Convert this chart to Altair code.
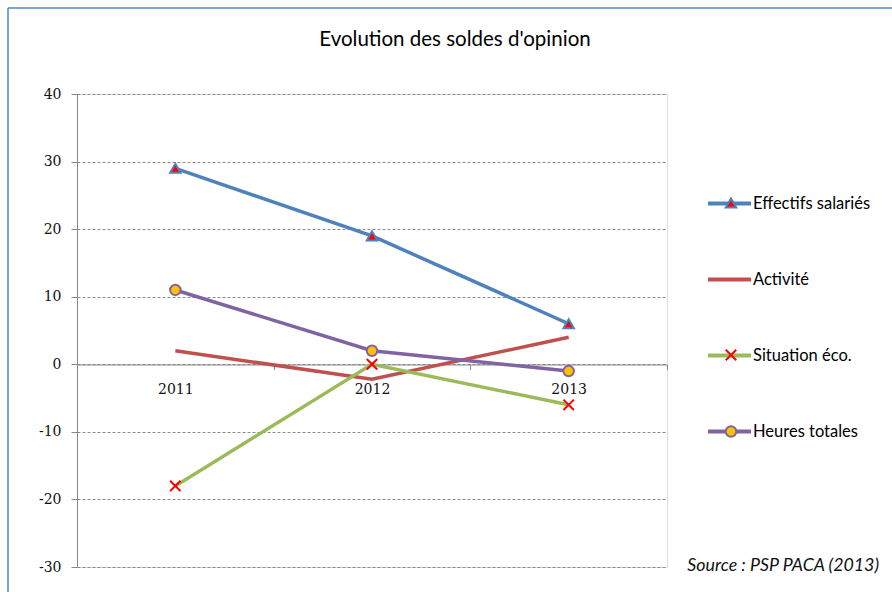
import altair as alt
import pandas as pd

years = ["2011", "2012", "2013"]
series = ["Effectifs salariés", "Activité", "Situation éco.", "Heures totales"]
effectifs = [29, 19, 6]
activite = [2, -2.2, 4]
situation = [-18, 0, -6]
heures = [11, 2, -1]

line_colors = ["#4F81BD", "#C0504D", "#9BBB59", "#8064A2"]
marker_fill = ["#FF0000", "transparent", "transparent", "#FFC000"]
marker_stroke = ["#4F81BD", "transparent", "#FF0000", "#8064A2"]
marker_shapes = ["triangle-up", "circle", "M-1,-1L1,1M-1,1L1,-1", "circle"]
y_ticks = [-30, -20, -10, 0, 10, 20, 30, 40]

title_text = "Evolution des soldes d'opinion"
source_text = "Source : PSP PACA (2013)"

rows = []
for name, vals in zip(series, [effectifs, activite, situation, heures]):
    for yr, v in zip(years, vals):
        rows.append({"serie": name, "serie_m": name, "annee": yr, "valeur": v})
df = pd.DataFrame(rows)

W, H = 590, 473

x_enc = alt.X("annee:N", sort=years,
              scale=alt.Scale(type="band", paddingInner=0, paddingOuter=0),
              axis=alt.Axis(title=None, labelAngle=0, tickBand="extent", tickSize=5,
                            tickColor="#888888", domainColor="#888888",
                            labelFont="DejaVu Serif", labelFontSize=14, labelColor="#111111",
                            labelPadding=13, offset=-202.5, grid=False))
y_enc = alt.Y("valeur:Q",
              scale=alt.Scale(domain=[-30, 40], nice=False, zero=False),
              axis=alt.Axis(title=None, values=y_ticks, tickSize=6, tickColor="#888888",
                            domainColor="#888888", grid=True, gridColor="#8a8a8a",
                            gridDash=[3, 2], gridWidth=1, labelExpr="datum.value + ''",
                            labelFont="DejaVu Serif", labelFontSize=14, labelColor="#111111",
                            labelPadding=10))

base = alt.Chart(df)

lines = base.mark_line(strokeWidth=3.5).encode(
    x=x_enc, y=y_enc,
    color=alt.Color("serie:N", sort=series,
                    scale=alt.Scale(range=line_colors),
                    legend=alt.Legend(title=None, orient="none", legendX=629, legendY=86,
                                      symbolType="stroke", symbolSize=1849,
                                      symbolStrokeWidth=4, labelFont="Lato",
                                      labelFontSize=16.5, labelColor="#000000",
                                      labelOffset=0, rowPadding=44)),
)

leg2 = alt.Legend(title=None, orient="none", legendX=646, legendY=101, symbolSize=110,
                  symbolStrokeWidth=2, labelOpacity=0, labelFont="Lato",
                  labelFontSize=16, rowPadding=56.5)

points = base.mark_point(filled=False, size=110, strokeWidth=2, opacity=1).encode(
    x=x_enc, y=y_enc,
    shape=alt.Shape("serie_m:N", scale=alt.Scale(domain=series, range=marker_shapes),
                    legend=leg2),
    fill=alt.Fill("serie_m:N", scale=alt.Scale(domain=series, range=marker_fill),
                  legend=leg2),
    stroke=alt.Stroke("serie_m:N", scale=alt.Scale(domain=series, range=marker_stroke),
                      legend=leg2),
)

one = alt.Data(values=[{}])
frame_left = alt.Chart(one).mark_rule(color="#4F86C6", strokeWidth=1.5).encode(
    x=alt.value(-69), y=alt.value(-86), y2=alt.value(H + 40))
frame_top = alt.Chart(one).mark_rule(color="#4F86C6", strokeWidth=1.5).encode(
    x=alt.value(-69), x2=alt.value(W + 250), y=alt.value(-86))

title = alt.Chart(one).mark_text(align="center", baseline="middle", font="Lato",
                                 fontSize=20.5, color="#000000",
                                 text=title_text).encode(
    x=alt.value(378), y=alt.value(-54))

source = alt.Chart(one).mark_text(align="right", baseline="middle", font="Lato",
                                  fontSize=17.8, fontStyle="italic", color="#111111",
                                  text=source_text).encode(
    x=alt.value(802), y=alt.value(472))

chart = alt.layer(frame_left, frame_top, lines, points, title, source).properties(
    width=W, height=H,
    autosize=alt.AutoSizeParams(type="none"),
    padding={"left": 77, "top": 94, "right": 225, "bottom": 25},
).configure_view(stroke=None).configure(background="white")

chart.save("out.html", embed_options={"renderer": "svg", "actions": False})
